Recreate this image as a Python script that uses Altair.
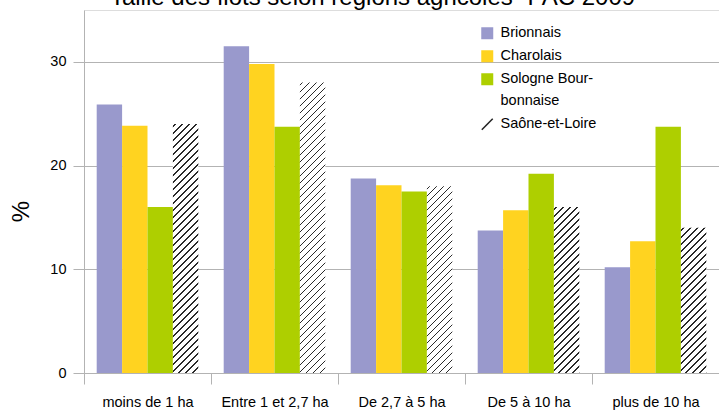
import altair as alt
import pandas as pd

# Size classes of the plots (x axis) and the four areas compared
categories = ["moins de 1 ha", "Entre 1 et 2,7 ha", "De 2,7 à 5 ha", "De 5 à 10 ha", "plus de 10 ha"]
series = ["Brionnais", "Charolais", "Sologne Bourbonnaise", "Saône-et-Loire"]

# Share of plots (%) per size class
brionnais = [25.9, 31.5, 18.75, 13.75, 10.2]
charolais = [23.85, 29.8, 18.1, 15.7, 12.7]
sologne = [16.0, 23.75, 17.5, 19.2, 23.75]
saone_et_loire = [24.0, 28.0, 18.0, 16.0, 14.0]

colors = ["#9999cc", "#ffd320", "#aecf00", "#222222"]
FONT = "Liberation Sans"
GRID = "#b3b3b3"

# plot area in pixels
W, H = 635, 363
Y_MAX = 35

rows = []
for name, vals in zip(series, [brionnais, charolais, sologne, saone_et_loire]):
    for cat, v in zip(categories, vals):
        rows.append({"cat": cat, "series": name, "val": v})
df = pd.DataFrame(rows)


def hatch(value, spacing=7.0, thick=1.3, ink="#2a2a2a"):
    """Diagonal '/' hatching as a striped linear gradient for one bar."""
    bw = W / len(categories) / (len(series) + 1)   # bar width in px
    bh = value * H / Y_MAX                         # bar height in px
    tot = bw + bh
    k = tot / (bw * bw + bh * bh)
    stops = [alt.GradientStop(offset=0, color="white")]
    pos = 2.0
    while pos < tot:
        a, b = pos / tot, min((pos + thick) / tot, 1.0)
        stops += [alt.GradientStop(offset=a, color="white"),
                  alt.GradientStop(offset=a, color=ink),
                  alt.GradientStop(offset=b, color=ink),
                  alt.GradientStop(offset=b, color="white")]
        pos += spacing
    stops.append(alt.GradientStop(offset=1, color="white"))
    return alt.LinearGradient(gradient="linear", stops=stops,
                              x1=0, y1=0, x2=k * bw, y2=k * bh)


hatch_conditions = [
    {"test": f"datum.series === '{series[3]}' && datum.cat === '{c}'", "value": hatch(v).to_dict()}
    for c, v in zip(categories, saone_et_loire)
]

x_enc = alt.X("cat:N", sort=categories,
              scale=alt.Scale(paddingInner=0, paddingOuter=0),
              axis=alt.Axis(title=None, labelAngle=0, tickBand="extent", tickSize=11,
                            tickColor=GRID, domainColor=GRID, labelPadding=11,
                            labelFontSize=14.5, labelFont=FONT, labelColor="#000"))
y_scale = alt.Scale(domain=[0, Y_MAX], nice=False)

bars = alt.Chart(df).mark_bar().encode(
    x=x_enc,
    xOffset=alt.XOffset("series:N", sort=series,
                        scale=alt.Scale(domain=series, paddingInner=0, paddingOuter=0.5)),
    y=alt.Y("val:Q", scale=y_scale,
            axis=alt.Axis(title="%", values=[0, 10, 20, 30], grid=True, gridColor=GRID,
                          domainColor=GRID, tickColor=GRID, tickSize=11, labelPadding=7,
                          labelFontSize=14.5, labelFont=FONT, labelColor="#000",
                          titleFont=FONT, titleFontSize=24, titleFontWeight="normal",
                          titleColor="#000", titleAngle=-90, titleX=-63, titleY=201,
                          titleAlign="center", titleBaseline="middle")),
    color={"field": "series", "type": "nominal",
           "scale": {"domain": series, "range": colors},
           "legend": None,
           "condition": hatch_conditions},
)

# legend carrier: points sit below the y domain and are clipped away
legend_df = pd.DataFrame({"cat": [categories[0]] * 4, "series": series, "val": [-5] * 4})
slash = "M-1,0.82L0.82,-1L1,-0.82L-0.82,1Z"
legend_opts = dict(
    title=None, orient="none", legendX=396, legendY=16,
    labelFont=FONT, labelFontSize=14.5, labelColor="#000",
    labelOffset=6, rowPadding=8, symbolSize=144,
    symbolStrokeWidth=0, padding=0, labelLimit=300,
    labelExpr="datum.label == 'Sologne Bourbonnaise' ? ['Sologne Bour-', 'bonnaise'] : datum.label",
)
legend_pts = alt.Chart(legend_df).mark_point(filled=True, clip=True, size=144, opacity=1).encode(
    x=alt.X("cat:N", sort=categories),
    y=alt.Y("val:Q", scale=y_scale),
    color=alt.Color("series:N", sort=series,
                    scale=alt.Scale(domain=series, range=colors),
                    legend=alt.Legend(**legend_opts)),
    shape=alt.Shape("series:N", sort=series,
                    scale=alt.Scale(domain=series, range=["square", "square", "square", slash]),
                    legend=alt.Legend(**legend_opts)),
)

chart = alt.layer(bars, legend_pts).resolve_scale(
    color="independent", shape="independent"
).resolve_legend(color="independent", shape="independent").properties(
    width=W, height=H,
    title=alt.TitleParams("Taille des îlots selon régions agricoles- PAC 2009",
                          font=FONT, fontSize=24, fontWeight="normal", color="#000",
                          anchor="middle", dx=-29, dy=4, offset=4),
    autosize=alt.AutoSizeParams(type="none"),
    padding={"left": 84, "top": 10, "right": 0, "bottom": 37},
).configure_view(stroke=GRID).configure(
    background="white",
    style={"guide-label": {"lineHeight": 21.5}},
)

chart.save("out.html", embed_options={"renderer": "svg", "actions": False})
